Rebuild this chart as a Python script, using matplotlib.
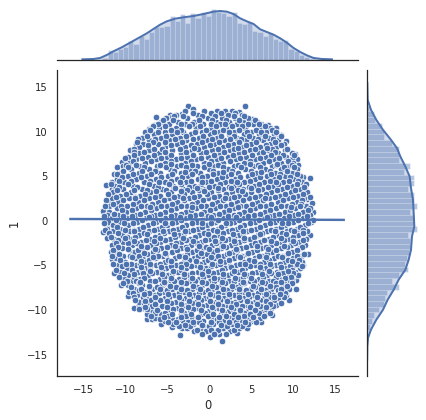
import matplotlib
matplotlib.use("Agg")
import matplotlib.pyplot as plt
import numpy as np

blue = "#4C72B0"
dark = "#262626"

# outline of the cloud
edge_pts = [(-2.46,12.88),(-1.87,12.5),(-6.35,11.6),(-4.7,11.9),(-3.25,12.0),(-4.4,11.6),(-7.1,10.27),(-6.6,10.75),
            (-8.65,8.6),(-9.1,8.06),(-9.9,6.8),(-10.4,6.55),(-11.0,6.05),(-11.3,5.25),(-12.3,4.0),(-11.55,4.3),
            (-11.6,3.55),(-12.06,2.15),(-12.65,1.07),(4.3,12.85),(3.6,12.2),(1.86,12.3),(5.08,11.4),(6.95,10.75),
            (8.0,10.4),(8.6,9.6),(9.1,8.9),(10.2,7.5),(10.4,6.9),(10.6,6.3),(11.2,4.9),(11.95,4.8),(11.35,3.55),
            (11.6,2.4),(12.2,1.97),(12.3,1.0),(-12.65,-1.27),(-12.2,-0.56),(-12.1,-1.94),(-11.7,-3.5),(-11.5,-4.3),
            (-11.3,-5.86),(-10.5,-7.2),(-9.7,-8.4),(-8.9,-9.8),(-8.3,-9.4),(-7.4,-11.0),(-6.75,-11.0),(-6.1,-10.8),
            (-5.7,-11.6),(-4.4,-11.9),(-3.2,-12.0),(-3.45,-12.8),(-1.75,-12.4),(0.05,-13.0),(-0.45,-11.9),
            (11.95,-1.6),(11.7,-3.7),(11.2,-5.0),(10.3,-6.6),(10.3,-7.65),(9.45,-8.9),(8.45,-8.55),(7.65,-9.55),
            (7.5,-10.6),(6.95,-10.3),(6.15,-11.35),(5.3,-11.2),(4.45,-12.0),(3.3,-12.6),(1.5,-13.5),(1.2,-12.65)]

# inside of the cloud, estimated band by band: (y, x values)
bands = [
 (12.3,[-2.9,-0.6,0.9,2.7]),
 (11.9,[-3.9,-1.3,0.4,2.2,3.9]),
 (11.5,[-5.1,-2.6,-0.2,1.5,3.1,4.6]),
 (11.1,[-5.7,-3.7,-1.8,0.8,2.4,4.0,5.7]),
 (10.8,[-4.8,-2.9,-0.7,1.3,3.3,5.2,6.2]),
 (10.4,[-6.0,-3.9,-1.6,0.2,2.0,4.3,6.0,7.2]),
 (10.0,[-7.6,-5.2,-3.1,-0.9,1.2,3.0,5.0,6.7]),
 (9.7,[-6.6,-4.4,-2.2,0.1,2.3,4.1,5.9,7.7]),
 (9.3,[-8.0,-5.7,-3.5,-1.2,0.9,3.3,5.2,7.1,8.3]),
 (9.0,[-7.2,-4.8,-2.7,-0.3,1.8,4.4,6.4,8.2]),
 (8.6,[-7.9,-6.1,-3.8,-1.5,0.6,2.8,5.0,7.2,8.9]),
 (8.3,[-8.4,-5.2,-2.9,-0.6,1.7,3.9,6.1,8.0]),
 (7.9,[-9.4,-7.1,-4.4,-2.1,0.3,2.5,4.8,7.0,9.0]),
 (7.6,[-8.3,-6.0,-3.4,-1.0,1.3,3.5,5.9,8.2,9.8]),
 (7.2,[-9.6,-7.3,-5.0,-2.6,-0.2,2.2,4.4,6.8,9.1]),
 (6.9,[-8.7,-6.3,-4.0,-1.6,0.9,3.2,5.4,7.7,9.9]),
 (6.5,[-9.5,-7.6,-5.3,-2.9,-0.6,1.7,4.1,6.4,8.6,10.0]),
 (6.1,[-10.2,-8.3,-6.2,-3.8,-1.4,0.5,2.9,5.2,7.5,9.4]),
 (5.8,[-9.3,-7.2,-4.7,-2.3,0.0,2.2,4.3,6.6,8.5,10.5]),
 (5.4,[-10.6,-8.4,-5.8,-3.3,-1.1,1.1,3.4,5.6,7.8,9.8]),
 (5.0,[-9.7,-7.4,-4.9,-2.5,-0.3,2.0,4.6,6.9,9.0,10.8]),
 (4.7,[-11.0,-8.7,-6.3,-3.8,-1.3,0.9,3.1,5.4,7.7,10.1]),
 (4.3,[-10.1,-7.8,-5.3,-2.8,-0.4,1.9,4.2,6.5,8.8,11.0]),
 (3.9,[-11.2,-9.1,-6.6,-4.3,-1.8,0.6,3.0,5.3,7.6,9.9]),
 (3.6,[-10.3,-8.0,-5.6,-3.1,-0.7,1.6,4.0,6.3,8.7,10.8]),
 (3.2,[-11.4,-9.3,-7.0,-4.5,-2.1,0.2,2.7,5.0,7.4,9.7,11.6]),
 (2.8,[-10.6,-8.2,-5.9,-3.6,-1.2,1.2,3.6,6.0,8.4,10.6]),
 (2.5,[-11.6,-9.5,-7.2,-4.8,-2.4,-0.1,2.3,4.7,7.1,9.4,11.3]),
 (2.1,[-10.8,-8.5,-6.1,-3.8,-1.4,0.9,3.3,5.7,8.2,10.4]),
 (1.7,[-11.9,-9.8,-7.4,-5.0,-2.6,-0.4,2.0,4.4,6.8,9.2,11.5]),
 (1.4,[-11.0,-8.7,-6.3,-4.0,-1.6,0.7,3.0,5.4,7.9,10.2,12.0]),
 (1.0,[-11.9,-9.9,-7.6,-5.2,-2.8,-0.6,1.8,4.2,6.6,9.0,11.2]),
 (0.6,[-12.2,-10.9,-8.8,-6.4,-4.1,-1.7,0.5,2.9,5.3,7.7,10.1,12.0]),
 (0.3,[-11.5,-9.8,-7.5,-5.3,-2.9,-0.5,1.6,4.0,6.4,8.9,11.1]),
 (-0.1,[-12.0,-10.7,-8.6,-6.3,-3.9,-1.5,0.7,3.0,5.4,7.8,10.0,12.1]),
 (-0.5,[-11.4,-9.6,-7.3,-5.0,-2.7,-0.3,1.9,4.2,6.6,9.0,11.4]),
 (-0.9,[-12.1,-10.6,-8.4,-6.1,-3.7,-1.3,1.0,3.3,5.6,8.0,10.4]),
 (-1.2,[-11.4,-9.4,-7.1,-4.8,-2.4,-0.1,2.2,4.5,6.9,9.3,11.6]),
 (-1.6,[-10.4,-8.3,-5.9,-3.6,-1.2,1.1,3.5,5.8,8.2,10.6]),
 (-2.0,[-11.3,-9.3,-7.0,-4.7,-2.3,0.0,2.4,4.8,7.1,9.5,11.5]),
 (-2.4,[-10.2,-8.1,-5.8,-3.4,-1.0,1.3,3.6,6.0,8.4,10.7]),
 (-2.7,[-11.6,-9.2,-6.9,-4.5,-2.2,0.3,2.6,5.0,7.3,9.7,11.4]),
 (-3.1,[-10.4,-8.0,-5.7,-3.3,-0.9,1.4,3.8,6.2,8.6,10.8]),
 (-3.5,[-11.0,-9.0,-6.7,-4.4,-2.0,0.4,2.8,5.1,7.5,9.9]),
 (-3.9,[-10.3,-7.9,-5.5,-3.1,-0.8,1.6,3.9,6.3,8.7,10.9]),
 (-4.2,[-11.1,-8.8,-6.5,-4.1,-1.8,0.6,3.0,5.4,7.7,10.0]),
 (-4.6,[-10.0,-7.6,-5.3,-3.0,-0.6,1.8,4.1,6.5,8.9,11.0]),
 (-5.0,[-10.9,-8.7,-6.3,-3.9,-1.6,0.8,3.2,5.5,7.9,10.2]),
 (-5.3,[-9.8,-7.5,-5.1,-2.8,-0.4,1.9,4.3,6.7,9.0,10.8]),
 (-5.7,[-10.6,-8.5,-6.2,-3.7,-1.3,1.0,3.4,5.7,8.1,10.2]),
 (-6.1,[-9.6,-7.3,-4.9,-2.5,-0.2,2.2,4.5,6.9,9.2,10.6]),
 (-6.5,[-10.1,-8.2,-5.9,-3.6,-1.2,1.2,3.5,5.9,8.3,9.9]),
 (-6.8,[-9.3,-7.0,-4.7,-2.3,0.1,2.4,4.8,7.1,9.4]),
 (-7.2,[-9.7,-8.0,-5.6,-3.3,-0.9,1.4,3.7,6.1,8.5]),
 (-7.6,[-9.0,-6.8,-4.4,-2.1,0.3,2.6,5.0,7.4,9.5]),
 (-8.0,[-9.5,-7.7,-5.4,-3.0,-0.7,1.6,4.0,6.3,8.6]),
 (-8.3,[-8.6,-6.5,-4.2,-1.8,0.5,2.9,5.2,7.6,9.1]),
 (-8.7,[-7.5,-5.2,-2.8,-0.5,1.8,4.2,6.5,8.2]),
 (-9.1,[-8.4,-6.3,-4.0,-1.6,0.8,3.1,5.4,7.4]),
 (-9.4,[-7.3,-5.0,-2.6,-0.3,2.0,4.4,6.6,8.0]),
 (-9.8,[-7.9,-6.1,-3.7,-1.3,1.1,3.4,5.7,7.3]),
 (-10.1,[-6.9,-4.7,-2.3,0.0,2.3,4.6,6.3]),
 (-10.5,[-7.4,-5.7,-3.4,-1.0,1.4,3.6,5.6]),
 (-10.9,[-6.4,-4.4,-2.1,0.3,2.5,4.7,6.0]),
 (-11.2,[-5.3,-3.1,-0.7,1.6,3.7,5.0]),
 (-11.6,[-4.3,-1.9,0.5,2.7,4.6]),
 (-12.0,[-2.6,-1.0,1.7,3.5]),
 (-12.4,[-0.4,0.8,2.5]),
]

# second pass over the cloud, filling the gaps between the first bands
bands_fill = [
 (12.1,[-1.9,0.2,1.4,3.1]),
 (11.7,[-4.2,-3.1,-0.9,0.7,2.9,4.1]),
 (11.3,[-5.5,-4.3,-1.2,0.3,2.0,3.6,5.4]),
 (10.9,[-6.1,-3.4,-2.0,0.2,1.9,4.6,5.9]),
 (10.6,[-6.7,-5.3,-2.4,-1.1,0.8,2.7,3.9,6.6]),
 (10.2,[-7.0,-4.6,-3.3,-0.4,1.6,3.6,5.6,7.5]),
 (9.9,[-6.1,-3.8,-1.7,0.6,2.4,4.5,6.2,7.9]),
 (9.5,[-7.4,-5.1,-2.8,-0.7,1.4,2.9,4.7,6.6,8.5]),
 (9.2,[-8.5,-6.4,-4.1,-1.9,0.3,2.5,3.8,5.8,7.6]),
 (8.8,[-8.6,-6.7,-5.3,-3.2,-0.9,1.2,3.5,5.6,7.8]),
 (8.5,[-7.3,-4.5,-2.2,0.1,2.2,4.4,6.7,8.5]),
 (8.1,[-8.9,-6.6,-5.6,-3.5,-1.3,1.0,3.0,5.4,7.5,9.3]),
 (7.7,[-9.0,-7.7,-5.2,-2.8,-0.4,1.8,4.1,6.4,7.8]),
 (7.4,[-8.9,-6.6,-4.5,-1.9,0.6,2.8,5.1,7.3,8.8,10.1]),
 (7.0,[-10.0,-8.0,-5.7,-3.3,-1.0,1.4,3.7,6.0,8.3]),
 (6.7,[-9.1,-6.9,-4.6,-2.2,0.2,2.5,4.8,7.1,9.4]),
 (6.3,[-9.9,-8.7,-5.8,-3.4,-2.0,1.0,3.4,5.8,8.0,9.8]),
 (6.0,[-9.7,-7.7,-5.1,-2.8,-0.6,1.6,3.8,6.1,8.9,10.1]),
 (5.6,[-10.2,-8.0,-6.5,-4.2,-1.7,0.5,2.7,5.0,7.2,9.2]),
 (5.2,[-11.0,-9.1,-6.9,-4.4,-2.0,0.4,2.6,5.1,7.4,8.4,10.4]),
 (4.9,[-10.4,-8.1,-5.7,-3.2,-0.9,1.5,3.7,6.1,8.3,9.6]),
 (4.5,[-10.7,-9.3,-7.0,-4.6,-2.2,0.2,2.6,4.9,7.2,9.5,10.6]),
 (4.1,[-11.7,-9.6,-7.2,-4.8,-3.4,-1.0,1.3,3.6,5.9,8.2,10.4,11.5]),
 (3.8,[-10.7,-8.6,-6.1,-2.4,0.0,2.3,4.7,7.0,9.3,11.3]),
 (3.4,[-11.0,-8.9,-7.4,-5.1,-2.6,-1.2,1.0,3.4,5.8,8.1,10.2]),
 (3.0,[-12.0,-9.9,-7.6,-4.9,-3.0,-0.3,2.0,4.3,6.7,9.0,11.1]),
 (2.7,[-11.1,-8.8,-6.5,-4.2,-1.8,0.6,3.0,5.4,7.8,10.0,12.0]),
 (2.3,[-12.3,-10.2,-7.8,-5.4,-3.0,-0.7,1.6,4.0,6.4,8.8,11.0]),
 (1.9,[-11.4,-9.1,-6.8,-4.4,-2.0,0.3,2.6,5.1,7.4,9.8,10.9]),
 (1.6,[-12.4,-10.5,-8.1,-5.7,-3.3,-1.0,1.3,3.7,6.1,8.5,10.8]),
 (1.2,[-10.4,-9.2,-6.9,-4.6,-2.2,0.1,2.4,4.8,7.2,9.6,11.7]),
 (0.8,[-11.3,-8.2,-5.8,-3.4,-1.0,1.2,3.6,6.0,8.3,10.6]),
 (0.5,[-12.5,-10.3,-9.2,-6.9,-4.6,-2.3,-0.1,2.2,4.6,7.1,9.5,11.6]),
 (0.1,[-11.1,-8.0,-5.7,-3.3,-0.9,1.1,3.5,5.9,8.3,10.6,12.4]),
 (-0.3,[-12.5,-10.1,-9.1,-6.7,-4.4,-2.1,0.2,2.5,4.8,7.2,9.4,11.8]),
 (-0.7,[-11.0,-7.9,-5.6,-3.2,-0.8,1.4,3.7,6.1,8.5,10.8]),
 (-1.0,[-12.4,-10.0,-9.0,-6.6,-4.3,-1.9,0.4,2.7,5.0,7.4,9.7,11.1]),
 (-1.4,[-11.9,-10.9,-7.7,-5.4,-3.0,-0.6,1.7,4.0,6.3,8.7,11.1]),
 (-1.8,[-11.7,-9.8,-8.8,-6.4,-4.1,-1.7,0.6,2.9,5.3,7.6,10.0]),
 (-2.2,[-10.8,-7.5,-5.2,-2.8,-0.5,1.9,4.2,6.5,8.9,11.1]),
 (-2.5,[-11.1,-9.7,-8.6,-6.3,-3.9,-1.5,0.8,3.1,5.5,7.9,10.2]),
 (-2.9,[-10.9,-7.4,-5.0,-2.7,-0.4,2.0,4.4,6.8,9.2,11.0]),
 (-3.3,[-11.4,-9.5,-8.5,-6.2,-3.8,-1.4,0.9,3.3,5.7,8.0,10.4]),
 (-3.7,[-10.7,-7.4,-5.1,-2.6,-0.3,2.1,4.5,6.9,9.3,11.3]),
 (-4.0,[-11.5,-9.4,-8.4,-6.1,-3.6,-1.3,1.1,3.4,5.9,8.2,10.4]),
 (-4.4,[-10.6,-7.2,-4.9,-2.4,-0.1,2.4,4.7,7.1,9.4,10.7]),
 (-4.8,[-11.4,-9.3,-8.2,-5.8,-3.4,-1.1,1.3,3.7,6.0,8.4,10.5]),
 (-5.1,[-10.4,-7.0,-4.6,-2.2,0.2,2.5,4.9,7.3,9.6,11.0]),
 (-5.5,[-11.1,-9.2,-8.0,-5.6,-3.3,-0.9,1.5,3.9,6.2,8.6,9.8]),
 (-5.9,[-10.1,-7.9,-6.8,-4.4,-2.0,0.4,2.7,5.1,7.4,8.8,10.0]),
 (-6.3,[-10.7,-9.0,-5.4,-3.0,-0.7,1.7,4.0,6.4,7.9,9.7]),
 (-6.7,[-9.8,-8.7,-6.4,-4.2,-1.7,0.6,3.0,5.3,7.6,8.9]),
 (-7.0,[-10.2,-8.4,-5.2,-2.8,-0.4,1.9,4.2,6.6,8.0,9.9]),
 (-7.4,[-9.3,-7.2,-6.2,-3.9,-1.5,0.8,3.2,5.5,7.9,8.9]),
 (-7.8,[-8.4,-5.0,-2.6,-0.2,2.1,4.4,6.8,8.2]),
 (-8.1,[-9.1,-7.1,-6.0,-3.6,-1.2,1.1,3.5,5.8,7.0,9.0]),
 (-8.5,[-8.9,-7.9,-4.8,-2.3,0.0,2.4,4.7,7.1,8.9]),
 (-8.9,[-8.8,-6.9,-5.8,-3.4,-1.0,1.3,3.7,6.0,7.7]),
 (-9.2,[-7.7,-4.5,-2.1,0.3,2.6,4.9,6.9,8.5]),
 (-9.6,[-6.8,-5.6,-3.2,-0.8,1.5,3.9,6.1,7.6]),
 (-9.9,[-8.4,-7.4,-4.3,-1.9,0.5,2.8,5.1,6.8]),
 (-10.3,[-6.4,-5.2,-3.0,-0.5,1.8,4.1,5.9,7.2]),
 (-10.7,[-6.9,-4.9,-2.7,-0.2,2.0,4.2,6.5]),
 (-11.0,[-5.8,-3.7,-1.4,0.9,3.0,5.3]),
 (-11.4,[-4.9,-2.5,-1.2,1.2,3.2,5.6]),
 (-11.8,[-3.6,-2.3,0.0,2.1,3.9]),
 (-12.2,[-1.5,0.2,1.1,2.9]),
 (-12.7,[-0.9,0.6,2.0]),
]

# third pass, scattered over the tighter rows
bands_loose = [
 (8.2,[-1.8,3.4,6.9]),(6.4,[-4.6,0.0,4.9,8.1]),(5.5,[-2.9,1.7,6.2]),(4.4,[-6.0,-3.5,-0.8,3.3,8.0]),
 (3.7,[-4.1,-1.5,1.0,2.6,5.0]),(3.3,[-6.3,-3.4,-0.6,3.9]),(2.6,[-8.8,-3.1,1.9,6.6]),(1.5,[-7.0,-2.1,3.4,9.7]),
 (0.4,[-7.1,-3.5,0.2,3.2,6.9]),(-0.2,[-5.2,-0.9,2.0,8.7]),
 (-1.1,[-8.9,-5.5,-2.9,0.9,4.0,7.8,10.1]),(-1.5,[-7.4,-4.2,-0.2,2.8,6.0,9.1]),(-1.9,[-10.0,-5.8,-3.1,1.5,4.1,8.6]),
 (-2.3,[-9.0,-6.6,-1.9,0.7,3.0,7.4,10.0]),(-2.8,[-8.1,-4.1,-1.2,1.7,5.7,8.9]),(-3.2,[-9.7,-6.5,-2.6,0.0,3.2,7.0]),
 (-3.6,[-7.8,-5.2,-1.0,2.3,4.6,9.4]),(-4.1,[-9.2,-6.7,-2.9,0.2,3.7,6.7,8.7]),(-4.5,[-8.1,-4.6,-1.6,1.3,5.3,9.9]),
 (-4.9,[-9.9,-7.0,-2.7,0.3,4.3,7.2]),(-5.2,[-8.1,-5.7,-3.3,-1.1,2.6,6.0,8.5]),(-5.6,[-7.0,-4.3,-0.1,3.0,7.1,9.4]),
 (-6.0,[-9.0,-5.6,-3.0,-0.9,1.6,4.2,6.3,8.2]),(-6.4,[-7.7,-4.6,-2.0,0.6,3.1,5.0,9.0]),(-6.9,[-8.2,-5.4,-3.3,-0.9,1.5,4.0,6.3,8.6]),
 (-7.3,[-7.1,-4.7,-1.9,0.3,2.7,5.2,7.2,9.2]),(-7.7,[-8.1,-5.8,-3.3,-1.1,1.7,3.6,6.2,8.6]),(-8.2,[-7.7,-4.9,-2.4,0.1,2.4,4.6,6.8,8.4]),
 (-8.6,[-6.4,-3.6,-1.3,1.1,3.5,5.7,7.7]),(-9.0,[-7.6,-5.0,-2.4,0.1,2.1,4.5,6.8]),(-9.3,[-6.5,-3.4,-1.3,1.0,3.2,5.7,7.2]),
 (-9.7,[-7.6,-5.0,-2.5,0.3,2.6,4.9,6.7]),(-10.0,[-6.2,-3.3,-1.0,1.5,3.7,5.5]),(-10.4,[-4.4,-2.2,0.4,2.9,4.9]),
 (-10.8,[-5.4,-3.4,-1.3,1.2,3.4,5.2]),(-11.3,[-4.0,-1.9,0.2,2.4,4.3]),(-11.7,[-2.9,-0.8,1.4,3.3]),
]

all_bands = bands + bands_fill + bands_loose
pts_x = [p[0] for p in edge_pts] + [x for y, xs in all_bands for x in xs]
pts_y = [p[1] for p in edge_pts] + [y for y, xs in all_bands for x in xs]

reg_x = [-16.5, 16.0]
reg_y = [0.2, 0.1]

# top marginal, left to right
top_counts = [5,30,25,32,40,56,48,72,62,84,98,100,102,132,118,138,112,140,126,144,132,152,144,142,132,144,
              112,108,114,86,84,72,80,62,56,60,32,28,16,8,4]
top_range = (-12.7, 12.5)
top_kde_x = [-15.08,-13.77,-12.98,-12.18,-11.39,-10.40,-9.41,-8.41,-7.42,-6.63,-5.83,-5.04,-4.05,-3.06,-1.87,-0.68,
             0.51,1.31,2.10,2.89,3.69,4.48,5.28,6.07,6.86,7.66,8.45,9.24,10.04,10.83,11.62,12.42,13.41,14.6]
top_kde_h = [2,3,6,15,26,38,52,66,80,93,106,116,124,128,132,138,145,147,145,138,125,116,108,92,84,76,65,52,36,24,14,6,3,2]

# right marginal, top to bottom
right_counts = [5,22,25,45,52,52,75,95,95,95,128,110,140,140,122,140,140,150,128,140,140,150,122,130,130,125,
                120,115,122,95,75,95,60,55,50,35,20,15,8,3,2]
right_range = (-13.5, 12.9)
right_kde_y = [15.42,13.55,12.43,11.31,10.19,9.07,8.14,7.21,6.09,4.96,3.66,2.35,0.86,-0.63,-1.75,-3.25,-4.37,-5.49,
               -6.6,-7.73,-8.85,-9.97,-11.09,-12.2,-13.14,-14.07,-15.56]
right_kde_h = [1,2,12,28,48,72,90,100,115,128,132,138,140,142,135,132,125,115,95,80,62,48,28,12,3,1,0.5]

plt.rcParams['font.family'] = 'DejaVu Sans'
W, H = 426, 420
fig = plt.figure(figsize=(W / 72, H / 72), dpi=72, facecolor="white")

ax = fig.add_axes([57 / W, 1 - 376 / H, 301 / W, 306 / H])
ax_top = fig.add_axes([57 / W, 1 - 60 / H, 301 / W, 52 / H])
ax_right = fig.add_axes([367 / W, 1 - 376 / H, 52 / W, 306 / H])

ax.scatter(pts_x, pts_y, s=44, color=blue, edgecolor="white", linewidth=0.8, zorder=2)
ax.plot(reg_x, reg_y, color=blue, lw=2.4, zorder=3)
ax.set_xlim(-18.1, 17.7)
ax.set_ylim(-17.4, 16.9)
ax.set_xticks([-15, -10, -5, 0, 5, 10, 15])
ax.set_yticks([-15, -10, -5, 0, 5, 10, 15])
ax.tick_params(length=0, labelsize=10, labelcolor=dark, pad=9)
ax.set_xlabel("0", fontsize=11.5, color=dark, labelpad=4)
ax.set_ylabel("1", fontsize=11.5, color=dark, labelpad=6)
ax.spines[["top", "right"]].set_visible(False)

edges = np.linspace(top_range[0], top_range[1], len(top_counts) + 1)
ax_top.bar(edges[:-1], top_counts, width=np.diff(edges), align="edge", color=blue, alpha=0.4, edgecolor="white", linewidth=1)
ax_top.fill_between(top_kde_x, top_kde_h, color=blue, alpha=0.25, linewidth=0)
ax_top.plot(top_kde_x, top_kde_h, color=blue, lw=2)
ax_top.set_xlim(ax.get_xlim())
ax_top.set_ylim(0, 156)
ax_top.axis("off")
ax_top.add_line(plt.Line2D([0, 1], [0, 0], transform=ax_top.transAxes, color=dark, lw=1.25, clip_on=False))

edges = np.linspace(right_range[1], right_range[0], len(right_counts) + 1)
ax_right.barh(edges[:-1], right_counts, height=np.diff(edges), align="edge", color=blue, alpha=0.4, edgecolor="white", linewidth=1)
ax_right.fill_betweenx(right_kde_y, right_kde_h, color=blue, alpha=0.25, linewidth=0)
ax_right.plot(right_kde_h, right_kde_y, color=blue, lw=2)
ax_right.set_ylim(ax.get_ylim())
ax_right.set_xlim(0, 156)
ax_right.axis("off")
ax_right.add_line(plt.Line2D([0, 0], [0, 1], transform=ax_right.transAxes, color=dark, lw=1.25, clip_on=False))

for spine in ax.spines.values():
    spine.set_color(dark)
    spine.set_linewidth(1.25)

fig.savefig("out.png", dpi=72, facecolor="white")
